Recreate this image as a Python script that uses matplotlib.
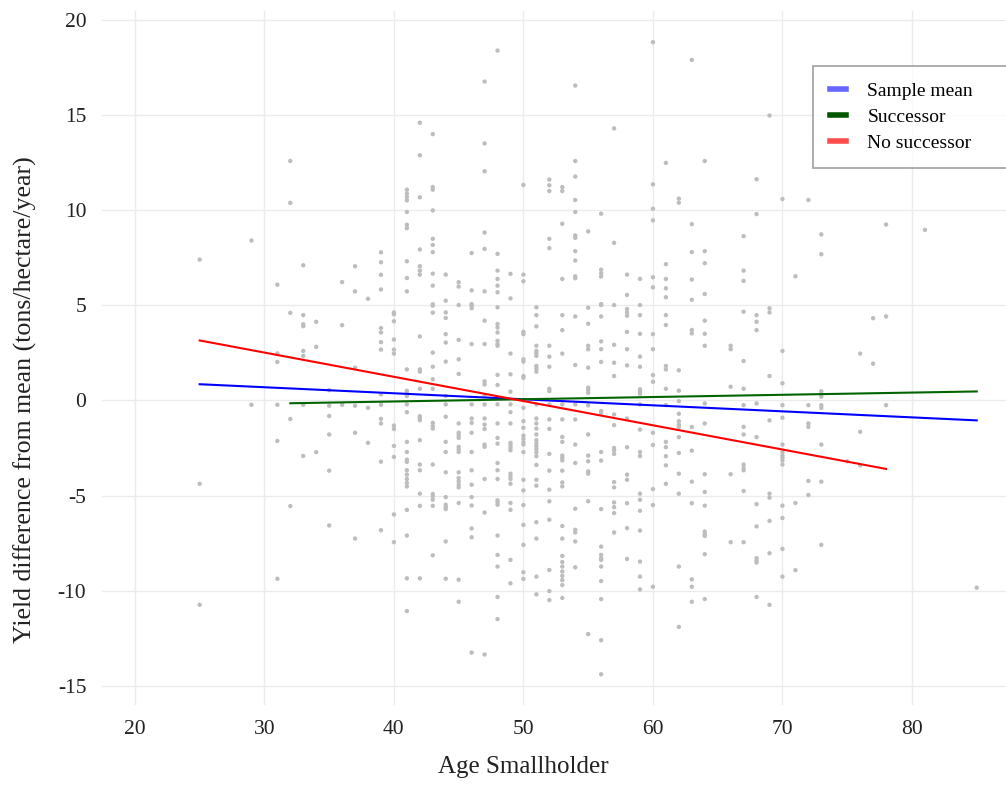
import matplotlib
matplotlib.use("Agg")
import matplotlib.pyplot as plt
from matplotlib.lines import Line2D
import numpy as np

# ---------------- data: yield difference per smallholder age ----------------
y_age25 = [7.4, -4.38, -10.74]
y_age29 = [8.4, -0.23]
y_age31 = [6.08, 2.47, 2.02, -0.23, -2.13, -9.37]
y_age32 = [12.58, 10.38, 4.6, -0.98, -5.55]
y_age33 = [7.1, 4.48, 4.0, 3.9, 2.6, 2.34, -0.23, -2.92]
y_age34 = [4.13, 2.81, -2.72]
y_age35 = [0.54, -0.28, -0.82, -1.79, -3.69, -6.57]
y_age36 = [6.22, 3.95, -0.23]
y_age37 = [7.05, 5.73, 1.72, -0.28, -1.7, -7.26]
y_age38 = [5.34, -0.39, -2.23]
y_age39 = [7.78, 7.26, 6.6, 5.83, 3.8, 3.57, 3.06, 2.67, 0.32, -0.23, -0.97, -1.21, -3.22, -6.82]
y_age40 = [4.62, 4.53, 4.16, 3.2, 2.67, 2.46, -1.32, -1.5, -2.39, -2.97, -5.99, -7.45]
y_age41 = [11.07, 10.86, 10.69, 10.51, 9.9, 9.23, 9.05, 7.31, 6.43, 5.73, 1.63, 0.5, 0.35, 0.23,
           -0.21, -0.62, -2.18, -2.71, -3.11, -3.23, -3.67, -3.9, -4.13, -4.34, -4.52, -5.75,
           -7.1, -9.35, -11.07]
y_age42 = [14.59, 12.88, 10.67, 7.93, 7.05, 6.82, 6.61, 3.36, 1.63, 1.51, 0.61, -0.83, -0.91,
           -1.04, -2.09, -3.37, -3.67, -4.9, -5.54, -9.35]
y_age43 = [13.99, 11.21, 11.07, 9.98, 8.49, 8.17, 7.79, 6.66, 6.03, 5.05, 4.98, 4.61, 2.51, 1.77,
           1.11, 0.61, -1.18, -1.35, -1.48, -3.37, -4.92, -5.04, -5.22, -5.54, -8.14]
y_age44 = [6.61, 5.24, 4.62, 4.33, 3.48, 3.04, 2.04, 0.23, -0.21, -0.86, -2.18, -2.71, -3.78,
           -5.08, -5.48, -5.6, -5.71, -7.41, -9.37]
y_age45 = [6.21, 5.98, 5.01, 3.18, 2.16, 1.39, -1.21, -1.7, -1.83, -1.97, -2.44, -2.58, -2.71,
           -3.78, -4.08, -4.25, -4.43, -4.57, -5.39, -9.42, -10.58]
y_age46 = [7.74, 5.78, 5.06, 4.98, 4.84, 2.96, -0.21, -0.95, -1.18, -1.7, -2.71, -3.67, -4.43,
           -5.08, -5.52, -6.73, -7.19, -13.25]
y_age47 = [16.75, 13.5, 12.04, 8.82, 7.96, 5.73, 4.19, 2.96, 1.0, 0.84, 0.23, -0.21, -0.95,
           -1.27, -1.5, -2.32, -2.44, -4.13, -5.89, -13.35]
y_age48 = [18.38, 7.70, 6.82, 6.38, 6.03, 5.68, 4.89, 4.01, 3.83, 3.57, 3.13, 2.96, 2.87, 1.34,
           0.81, -0.21, -1.21, -1.97, -2.27, -3.29, -3.67, -4.13, -5.25, -5.36, -5.48, -7.1,
           -8.12, -8.73, -10.33, -11.49]
y_age49 = [6.65, 5.36, 2.46, 1.37, 0.46, -0.21, -0.62, -1.21, -2.23, -2.35, -2.49, -2.62, -3.85,
           -3.99, -4.13, -4.38, -5.39, -5.75, -8.38, -9.61]
y_age50 = [11.32, 6.61, 6.26, 3.6, 3.48, 2.16, 2.04, 1.28, 1.19, -0.39, -1.09, -1.44, -1.85,
           -2.02, -2.2, -2.32, -2.72, -4.17, -4.73, -5.5, -6.54, -7.59, -9.03, -9.38]
y_age51 = [4.89, 4.48, 3.89, 2.87, 2.6, 2.48, 2.34, 1.81, 1.67, 1.51, -0.21, -0.95, -1.21,
           -1.48, -1.79, -2.09, -2.27, -2.41, -2.55, -2.72, -2.93, -3.39, -4.17, -4.48, -6.4,
           -7.26, -9.26, -10.19]
y_age52 = [11.6, 11.3, 11.0, 8.49, 8.0, 2.87, 2.3, 1.77, 0.61, 0.49, -0.21, -1.0, -1.5, -2.81,
           -3.69, -4.69, -5.3, -6.27, -8.91, -10.02, -10.49]
y_age53 = [11.21, 11.0, 9.28, 6.38, 4.48, 3.69, 2.46, -0.21, -1.0, -1.92, -2.18, -2.9, -3.02,
           -3.15, -3.69, -4.31, -4.52, -6.6, -7.26, -8.17, -8.49, -8.73, -8.99, -9.22, -9.44,
           -9.7, -10.38]
y_age54 = [16.54, 12.58, 11.76, 10.53, 9.9, 8.67, 8.54, 7.84, 7.35, 6.52, 6.42, 4.41, 1.86,
           -0.21, -1.0, -2.32, -3.29, -5.69, -6.8, -6.94, -7.41, -8.77]
y_age55 = [8.88, 4.87, 4.03, 2.87, 2.69, 1.72, 0.67, 0.55, 0.4, -0.26, -1.79, -2.9, -3.2, -3.73,
           -3.85, -5.3, -12.28]
y_age56 = [9.81, 6.87, 6.68, 6.51, 5.06, 5.01, 4.41, 3.1, 2.69, 2.02, -0.56, -0.65, -2.71,
           -3.16, -5.71, -7.68, -8.12, -8.29, -8.38, -8.73, -9.49, -10.44, -12.6, -14.39]
y_age57 = [14.29, 8.28, 5.01, 2.92, 1.98, 1.28, -0.74, -1.3, -2.5, -2.62, -2.81, -4.29, -4.57,
           -5.36, -5.61, -5.92, -6.94]
y_age58 = [6.61, 5.54, 4.8, 4.62, 4.45, 3.6, 2.69, 1.84, -0.95, -2.46, -3.9, -4.17, -5.4, -6.71,
           -8.33]
y_age59 = [6.38, 5.01, 4.48, 3.5, 2.3, 1.77, 0.58, 0.46, 0.35, -0.21, -1.53, -2.71, -2.93, -4.9,
           -5.22, -5.8, -6.84, -8.47, -9.26, -9.93]
y_age60 = [18.82, 11.35, 10.07, 9.46, 6.47, 5.94, 3.48, 2.69, 1.33, 0.98, -1.7, -2.34, -4.66,
           -5.5, -9.79]
y_age61 = [12.48, 7.16, 6.38, 5.89, 5.42, 4.48, 3.96, 1.81, 1.63, 0.61, -0.25, -2.18, -2.46,
           -2.93, -3.41, -4.38]
y_age62 = [10.6, 10.39, 1.58, 0.51, -0.04, -0.7, -1.09, -1.27, -1.39, -1.93, -2.76, -3.85, -4.9,
           -8.73, -11.9]
y_age63 = [17.89, 9.26, 7.79, 6.35, 5.29, 3.7, 3.52, -1.4, -2.64, -4.27, -5.4, -9.4, -9.79,
           -10.58]
y_age64 = [12.58, 7.84, 7.21, 5.59, 4.19, 3.5, 2.87, -0.16, -1.21, -3.88, -4.81, -5.53, -6.89,
           -7.03, -7.12, -8.08, -10.44]
y_age66 = [2.87, 2.69, 0.72, -3.88, -7.45]
y_age67 = [8.63, 6.82, 6.28, 4.66, 2.07, 0.61, -0.25, -1.39, -1.79, -3.37, -3.55, -3.67, -4.76,
           -7.45]
y_age68 = [11.62, 9.79, 4.48, 4.13, 3.69, -0.16, -1.93, -5.45, -6.62, -8.29, -8.42, -8.52,
           -10.33]
y_age69 = [14.97, 4.84, 4.62, 1.28, -1.05, -4.9, -5.11, -6.33, -8.03, -10.74]
y_age70 = [10.58, 2.6, 0.9, -0.25, -0.91, -2.32, -2.72, -2.9, -3.02, -3.16, -3.37, -5.53, -6.18,
           -7.8, -9.26]
y_age71 = [6.52, -5.39, -8.92]
y_age72 = [10.53, -0.25, -1.21, -1.39, -4.23, -4.97]
y_age73 = [8.72, 7.68, 0.48, 0.32, 0.2, -0.25, -0.39, -2.32, -4.27, -7.59]
y_age75 = [-3.2]
y_age76 = [2.46, -1.65, -3.41]
y_age77 = [4.32, 1.93]
y_age78 = [9.24, 4.41, -0.25]
y_age81 = [8.96]
y_age85 = [-9.84]

groups = {
    25: y_age25, 29: y_age29, 31: y_age31, 32: y_age32, 33: y_age33, 34: y_age34,
    35: y_age35, 36: y_age36, 37: y_age37, 38: y_age38, 39: y_age39, 40: y_age40,
    41: y_age41, 42: y_age42, 43: y_age43, 44: y_age44, 45: y_age45, 46: y_age46,
    47: y_age47, 48: y_age48, 49: y_age49, 50: y_age50, 51: y_age51, 52: y_age52,
    53: y_age53, 54: y_age54, 55: y_age55, 56: y_age56, 57: y_age57, 58: y_age58,
    59: y_age59, 60: y_age60, 61: y_age61, 62: y_age62, 63: y_age63, 64: y_age64,
    66: y_age66, 67: y_age67, 68: y_age68, 69: y_age69, 70: y_age70, 71: y_age71,
    72: y_age72, 73: y_age73, 75: y_age75, 76: y_age76, 77: y_age77, 78: y_age78,
    81: y_age81, 85: y_age85,
}

# regression lines (endpoints)
sample_x = [25, 85]
sample_y = [0.85, -1.05]
succ_x = [32, 85]
succ_y = [-0.15, 0.47]
nosucc_x = [25, 78]
nosucc_y = [3.15, -3.6]

series_labels = ["Sample mean", "Successor", "No successor"]
x_ticks = [20, 30, 40, 50, 60, 70, 80]
y_ticks = [-15, -10, -5, 0, 5, 10, 15, 20]
x_label = "Age Smallholder"
y_label = "Yield difference from mean (tons/hectare/year)"

# ---------------- plot ----------------
plt.rcParams['font.family'] = ['Liberation Serif', 'DejaVu Serif']
plt.rcParams['axes.unicode_minus'] = False

fig = plt.figure(figsize=(10.06, 7.85), dpi=100)
ax = fig.add_axes([0.101, 0.102, 0.899, 0.884])

xs = np.concatenate([[a] * len(v) for a, v in groups.items()])
ys = np.concatenate([v for v in groups.values()])
ax.scatter(xs, ys, s=10, color="#bdbdbd", edgecolors="none", zorder=2)

ax.plot(sample_x, sample_y, color="#0000ff", lw=1.5, zorder=3)
ax.plot(succ_x, succ_y, color="#006400", lw=1.5, zorder=3)
ax.plot(nosucc_x, nosucc_y, color="#ff0000", lw=1.5, zorder=3)

ax.set_xlim(17.43, 87.26)
ax.set_ylim(-16.0, 20.46)
ax.set_xticks(x_ticks)
ax.set_yticks(y_ticks)
ax.tick_params(axis="both", length=0, labelsize=15.5, colors="#222222")
ax.tick_params(axis="x", pad=11)
ax.tick_params(axis="y", pad=11)
ax.grid(True, color="#ebebeb", lw=1)
ax.set_axisbelow(True)
for s in ax.spines.values():
    s.set_visible(False)

ax.set_xlabel(x_label, fontsize=18, color="#222222")
ax.set_ylabel(y_label, fontsize=18.6, color="#222222")
ax.xaxis.set_label_coords(0.466, -0.074)
ax.yaxis.set_label_coords(-0.071, 0.44)

handles = [Line2D([0], [0], color="#6666ff", lw=4),
           Line2D([0], [0], color="#005500", lw=4),
           Line2D([0], [0], color="#ff4d4d", lw=4)]
leg = fig.legend(handles, series_labels, loc="upper left",
                 bbox_to_anchor=(813 / 1006, 1 - 66 / 785, 200 / 1006, 0),
                 mode="expand",
                 frameon=True, fancybox=False, fontsize=14,
                 handlelength=0.85, handletextpad=1.1, borderpad=0.85,
                 labelspacing=0.42, borderaxespad=0)
leg.get_frame().set_edgecolor("#888888")
leg.get_frame().set_linewidth(1.2)

fig.savefig("out.png", dpi=100)
